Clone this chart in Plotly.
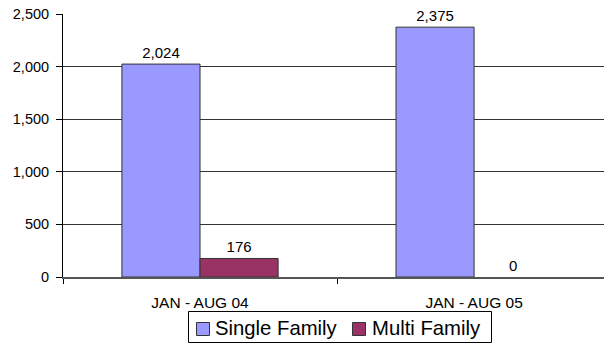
import plotly.graph_objects as go

# Permit counts by period
periods = ["JAN - AUG 04", "JAN - AUG 05"]
single_family = [2024, 2375]
multi_family = [176, 0]
series_names = ["Single Family", "Multi Family"]
series_colors = ["#9999FF", "#993366"]
y_ticks = [0, 500, 1000, 1500, 2000, 2500]
y_tick_labels = ["0", "500", "1,000", "1,500", "2,000", "2,500"]

FONT = "Liberation Sans, Arial, sans-serif"

W, H = 604, 343
M_L, M_R, M_T, M_B = 63, 0, 14, 66
PLOT_W = W - M_L - M_R
PLOT_H = H - M_T - M_B


def fmt(v):
    return f"{v:,}"


def px_x(px):
    # pixel column -> paper x
    return (px - M_L) / PLOT_W


def px_y(py):
    # pixel row -> paper y
    return (H - M_B - py) / PLOT_H


fig = go.Figure()
for name, values, color in zip(series_names, [single_family, multi_family], series_colors):
    fig.add_trace(go.Bar(
        name=name,
        x=periods,
        y=values,
        text=[fmt(v) for v in values],
        textposition="outside",
        cliponaxis=False,
        textfont=dict(family=FONT, size=15, color="black"),
        marker=dict(
            color=color,
            line=dict(color="#333333", width=[1 if v else 0 for v in values]),
        ),
        showlegend=False,
    ))

# Boxed legend below the axis
shapes = [dict(
    type="rect", xref="paper", yref="paper",
    x0=px_x(188.5), x1=px_x(491.5), y0=px_y(311.5), y1=px_y(342.5),
    line=dict(color="black", width=1), fillcolor="white", layer="above",
)]
annotations = []
legend_items = [(196, 214), (352, 371)]
for (sq_x, txt_x), name, color in zip(legend_items, series_names, series_colors):
    shapes.append(dict(
        type="rect", xref="paper", yref="paper",
        x0=px_x(sq_x + 0.5), x1=px_x(sq_x + 13.5), y0=px_y(322.5), y1=px_y(335.5),
        line=dict(color="#333333", width=1), fillcolor=color, layer="above",
    ))
    annotations.append(dict(
        xref="paper", yref="paper", x=px_x(txt_x), y=px_y(328),
        xanchor="left", yanchor="middle", text=name, showarrow=False,
        font=dict(family=FONT, size=20.3, color="black"),
        borderpad=0,
    ))

fig.update_layout(
    width=W,
    height=H,
    margin=dict(l=M_L, r=M_R, t=M_T, b=M_B),
    paper_bgcolor="white",
    plot_bgcolor="white",
    barmode="group",
    bargap=0.43,
    bargroupgap=0,
    font=dict(family=FONT, color="black"),
    showlegend=False,
    shapes=shapes,
    annotations=annotations,
    xaxis=dict(
        type="category",
        range=[-0.5, 1.474],
        showgrid=False,
        showline=True,
        linecolor="#555555",
        linewidth=1.5,
        ticks="outside",
        tickson="boundaries",
        ticklen=5,
        tickcolor="black",
        tickfont=dict(family=FONT, size=15.5, color="black"),
        ticklabelstandoff=11,
    ),
    yaxis=dict(
        range=[0, 2500],
        tickvals=y_ticks,
        ticktext=y_tick_labels,
        showgrid=True,
        gridcolor="#333333",
        gridwidth=1,
        showline=True,
        linecolor="black",
        linewidth=1,
        ticks="outside",
        ticklen=6,
        tickcolor="black",
        tickfont=dict(family=FONT, size=14.5, color="black"),
        ticklabelstandoff=4,
        zeroline=False,
    ),
)

fig.write_html("out.html")
